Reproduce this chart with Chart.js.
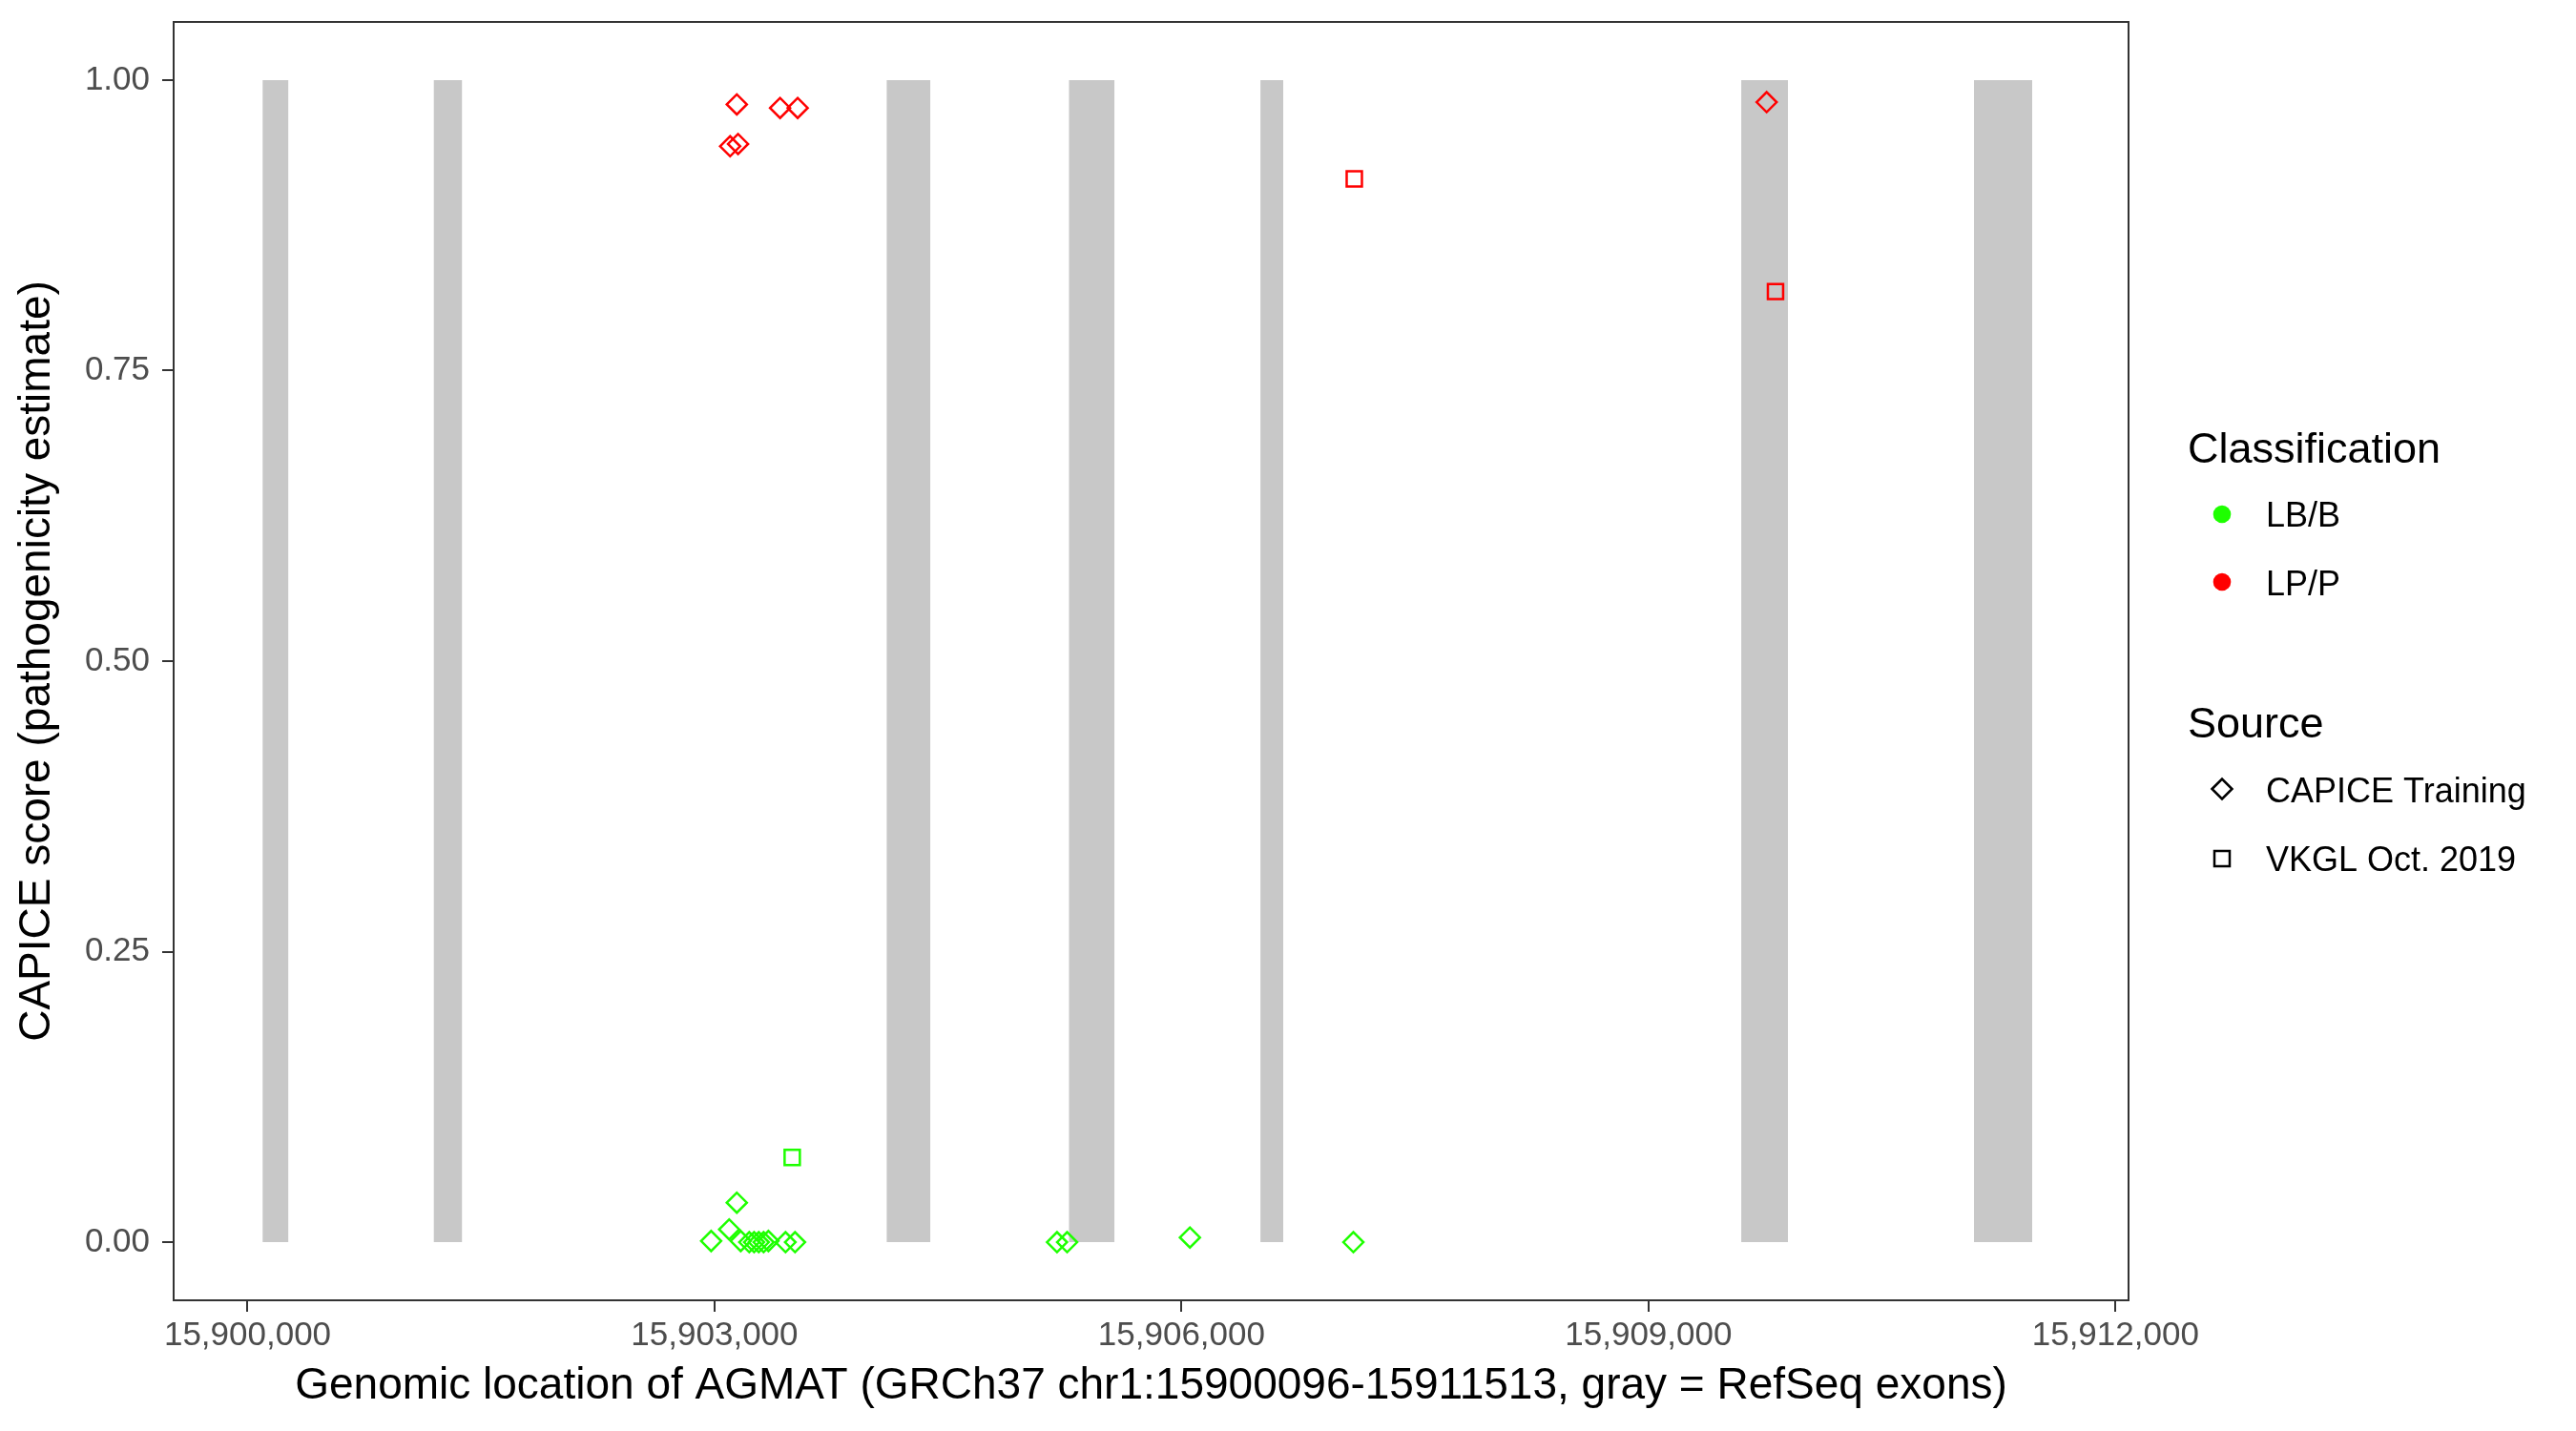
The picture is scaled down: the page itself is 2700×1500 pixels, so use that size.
<!DOCTYPE html>
<html>
<head>
<meta charset="utf-8">
<script src="https://cdn.jsdelivr.net/npm/chart.js@4.4.1/dist/chart.umd.min.js"></script>
<style>
  html, body { margin: 0; padding: 0; background: #fff; }
  #wrap { width: 2700px; height: 1500px; position: relative; }
</style>
</head>
<body>
<div id="wrap"><canvas id="chart"></canvas></div>
<script>
// Axis ticks
const xTicks = [15900000, 15903000, 15906000, 15909000, 15912000];
const yTicks = [0, 0.25, 0.5, 0.75, 1.0];

// RefSeq exons of AGMAT (gray bars)
const exonStarts = [15900096, 15901195, 15904105, 15905276, 15906507, 15909596, 15911091];
const exonEnds   = [15900263, 15901379, 15904387, 15905570, 15906654, 15909896, 15911465];

// LB/B, CAPICE Training
const lbTrainPos   = [15902978, 15903094, 15903143, 15903168, 15903223, 15903254, 15903284, 15903315,
                      15903346, 15903456, 15903517, 15905200, 15905265, 15906054, 15907104];
const lbTrainScore = [0.001, 0.011, 0.034, 0.001, 0.0, 0.0, 0.0, 0.0,
                      0.001, 0.0, 0.0, 0.0, 0.0, 0.004, 0.0];
// LB/B, VKGL Oct. 2019
const lbVkglPos   = [15903499];
const lbVkglScore = [0.073];
// LP/P, CAPICE Training
const lpTrainPos   = [15903143, 15903421, 15903534, 15903100, 15903151, 15909759];
const lpTrainScore = [0.979, 0.976, 0.976, 0.943, 0.945, 0.981];
// LP/P, VKGL Oct. 2019
const lpVkglPos   = [15907110, 15909816];
const lpVkglScore = [0.915, 0.818];

const GREEN = "#1eff00";
const RED = "#ff0000";
const FONT = "'Liberation Sans', Arial, Helvetica, sans-serif";

const toXY = (xs, ys) => xs.map((x, i) => ({ x: x, y: ys[i] }));

const pointSet = (label, xs, ys, color, style, radius) => ({
    type: "scatter",
    label: label,
    data: toXY(xs, ys),
    pointStyle: style,
    pointRadius: radius,
    pointBorderWidth: 2.5,
    borderColor: color,
    backgroundColor: "rgba(0,0,0,0)",
    order: 0,
});

const exonSets = exonStarts.map((s, i) => ({
    type: "line",
    label: "exon " + (i + 1),
    data: [{ x: s, y: 0 }, { x: s, y: 1 }, { x: exonEnds[i], y: 1 }, { x: exonEnds[i], y: 0 }],
    fill: "origin",
    backgroundColor: "#c8c8c8",
    borderWidth: 0,
    borderColor: "rgba(0,0,0,0)",
    pointRadius: 0,
    tension: 0,
    order: 10,
}));

// Panel border on all four sides
const panelBorder = {
    id: "panelBorder",
    afterDraw(chart) {
        const { ctx, chartArea: a } = chart;
        ctx.save();
        ctx.strokeStyle = "#333333";
        ctx.lineWidth = 2;
        ctx.strokeRect(a.left, a.top, a.right - a.left, a.bottom - a.top);
        ctx.restore();
    },
};

// Two-part legend (colour, then shape)
const sideLegend = {
    id: "sideLegend",
    afterDraw(chart) {
        const ctx = chart.ctx;
        const sx = 2329, tx = 2375;
        ctx.save();
        ctx.fillStyle = "#000";
        ctx.textBaseline = "alphabetic";
        ctx.textAlign = "left";
        ctx.font = "45px " + FONT;
        ctx.fillText("Classification", 2293, 485);
        ctx.fillText("Source", 2293, 773);

        ctx.font = "36px " + FONT;
        ctx.fillText("LB/B", tx, 552);
        ctx.fillText("LP/P", tx, 624);
        ctx.fillText("CAPICE Training", tx, 841);
        ctx.fillText("VKGL Oct. 2019", tx, 913);

        ctx.fillStyle = GREEN;
        ctx.beginPath(); ctx.arc(sx, 539, 9.3, 0, Math.PI * 2); ctx.fill();
        ctx.fillStyle = RED;
        ctx.beginPath(); ctx.arc(sx, 610, 9.3, 0, Math.PI * 2); ctx.fill();

        ctx.strokeStyle = "#000";
        ctx.lineWidth = 2.5;
        const r = 10.5, cy = 827;
        ctx.beginPath();
        ctx.moveTo(sx - r, cy); ctx.lineTo(sx, cy - r); ctx.lineTo(sx + r, cy); ctx.lineTo(sx, cy + r);
        ctx.closePath(); ctx.stroke();
        ctx.strokeRect(sx - 8, 900 - 8, 16, 16);
        ctx.restore();
    },
};

new Chart(document.getElementById("chart"), {
    type: "scatter",
    data: {
        datasets: [
            pointSet("LB/B CAPICE Training", lbTrainPos, lbTrainScore, GREEN, "rectRot", 10.5),
            pointSet("LB/B VKGL Oct. 2019", lbVkglPos, lbVkglScore, GREEN, "rect", 11.3),
            pointSet("LP/P CAPICE Training", lpTrainPos, lpTrainScore, RED, "rectRot", 10.5),
            pointSet("LP/P VKGL Oct. 2019", lpVkglPos, lpVkglScore, RED, "rect", 11.3),
            ...exonSets,
        ],
    },
    options: {
        responsive: true,
        maintainAspectRatio: false,
        animation: false,
        events: [],
        layout: { padding: { left: 0, top: 23, right: 469, bottom: 0 } },
        plugins: {
            legend: { display: false },
            tooltip: { enabled: false },
        },
        scales: {
            x: {
                type: "linear",
                min: 15899525,
                max: 15912084,
                afterBuildTicks: (s) => { s.ticks = xTicks.map((v) => ({ value: v })); },
                afterFit: (s) => { s.height = 137; s.paddingLeft = 0; s.paddingRight = 0; },
                grid: { drawOnChartArea: false, drawTicks: true, tickLength: 12, color: "#333333", lineWidth: 2 },
                border: { display: true, color: "#333333", width: 2 },
                ticks: {
                    color: "#4d4d4d",
                    font: { family: FONT, size: 35 },
                    padding: 4,
                    maxRotation: 0,
                    autoSkip: false,
                    callback: (v) => Number(v).toLocaleString("en-US"),
                },
                title: {
                    display: true,
                    text: "Genomic location of AGMAT (GRCh37 chr1:15900096-15911513, gray = RefSeq exons)",
                    color: "#000",
                    font: { family: FONT, size: 46 },
                    padding: { top: 0, bottom: 19 },
                },
            },
            y: {
                type: "linear",
                min: -0.05,
                max: 1.05,
                afterBuildTicks: (s) => { s.ticks = yTicks.map((v) => ({ value: v })); },
                afterFit: (s) => { s.width = 182; s.paddingTop = 0; s.paddingBottom = 0; },
                grid: { drawOnChartArea: false, drawTicks: true, tickLength: 12, color: "#333333", lineWidth: 2 },
                border: { display: true, color: "#333333", width: 2 },
                ticks: {
                    color: "#4d4d4d",
                    font: { family: FONT, size: 35 },
                    padding: 13,
                    autoSkip: false,
                    callback: (v) => Number(v).toFixed(2),
                },
                title: {
                    display: true,
                    text: "CAPICE score (pathogenicity estimate)",
                    color: "#000",
                    font: { family: FONT, size: 46 },
                    padding: { top: 12, bottom: 0 },
                },
            },
        },
    },
    plugins: [panelBorder, sideLegend],
});
</script>
</body>
</html>
